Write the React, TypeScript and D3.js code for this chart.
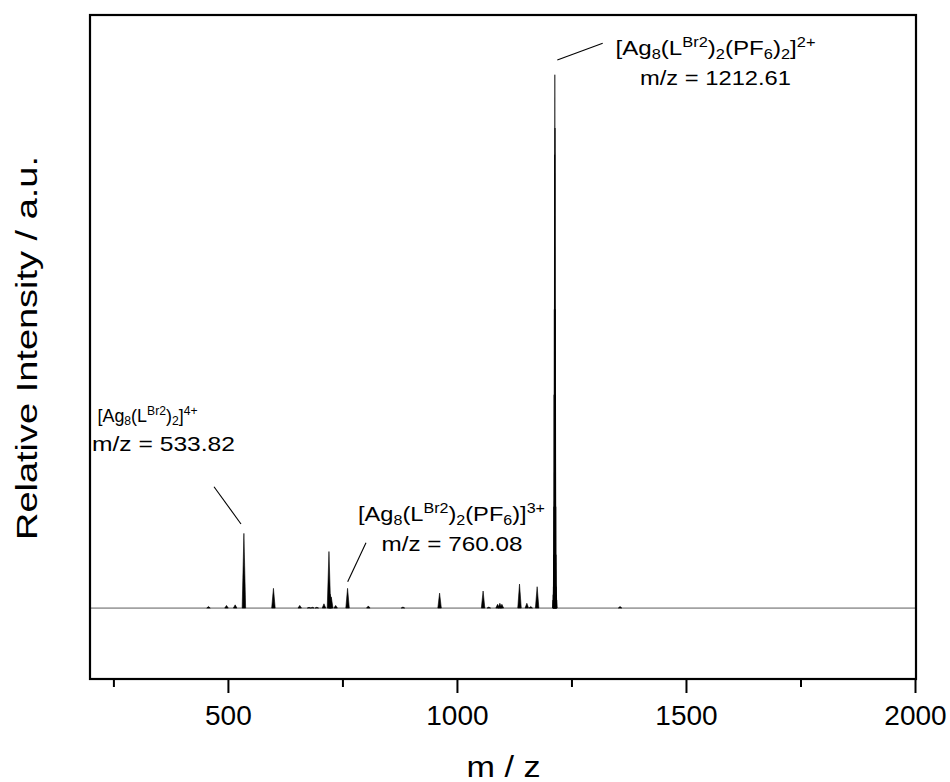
import React from "react";
import * as d3 from "d3";

// ---- data ----
const xDomain: [number, number] = [200, 2000];
const yDomain: [number, number] = [-13.3, 111.2];
const xMajorTicks = [500, 1000, 1500, 2000];
const xMinorTicks = [250, 750, 1250, 1750];

// minor peaks (m/z centre, relative intensity %)
const peakMz = [456.5, 495.8, 514.7, 533.8, 598.3, 655.7, 676, 683.5, 693, 708.6, 719.5, 722, 724.5, 734.1, 760.1, 805.4, 881, 961, 1056, 1068.5, 1087.6, 1092.6, 1097, 1135.5, 1151.5, 1160, 1174, 1355];
const peakInt = [0.3, 0.5, 0.6, 14.0, 3.7, 0.5, 0.15, 0.15, 0.15, 0.8, 10.6, 2.6, 2.1, 0.5, 3.7, 0.4, 0.2, 2.8, 3.2, 0.2, 0.7, 0.9, 0.7, 4.5, 0.9, 0.3, 4.0, 0.3];

// isotope envelope of the base peak at m/z 1212.61
const baseIsoMz = [1208.6, 1209.1, 1209.6, 1210.1, 1210.6, 1211.1, 1211.6, 1212.1, 1212.6, 1213.1, 1213.6, 1214.1, 1214.6, 1215.1, 1215.6, 1216.1, 1216.6];
const baseIsoInt = [1.5, 2.5, 4, 10, 19, 40, 56, 85, 100, 90, 56, 40, 19, 10, 4, 2.5, 1.5];

type Part = [string, "n" | "sub" | "sup"];
const label1: Part[] = [["[Ag", "n"], ["8", "sub"], ["(L", "n"], ["Br2", "sup"], [")", "n"], ["2", "sub"], ["(PF", "n"], ["6", "sub"], [")", "n"], ["2", "sub"], ["]", "n"], ["2+", "sup"]];
const label2: Part[] = [["[Ag", "n"], ["8", "sub"], ["(L", "n"], ["Br2", "sup"], [")", "n"], ["2", "sub"], ["]", "n"], ["4+", "sup"]];
const label3: Part[] = [["[Ag", "n"], ["8", "sub"], ["(L", "n"], ["Br2", "sup"], [")", "n"], ["2", "sub"], ["(PF", "n"], ["6", "sub"], [")]", "n"], ["3+", "sup"]];
const mzLabels = ["m/z = 1212.61", "m/z = 533.82", "m/z = 760.08"];

const FONT = "'Liberation Sans', Arial, Helvetica, sans-serif";

function Formula({ parts, x, y, size, len }: { parts: Part[]; x: number; y: number; size: number; len?: number }) {
  let cur = 0;
  const kids = parts.map((p, i) => {
    const target = p[1] === "sub" ? size * 0.18 : p[1] === "sup" ? -size * 0.38 : 0;
    const dy = target - cur;
    cur = target;
    return (
      <tspan key={i} dy={dy} fontSize={p[1] === "n" ? size : size * 0.68}>
        {p[0]}
      </tspan>
    );
  });
  return (
    <text x={x} y={y} fontFamily={FONT} fontSize={size} textLength={len} lengthAdjust={len ? "spacingAndGlyphs" : undefined}>
      {kids}
    </text>
  );
}

export default function App() {
  const W = 950, H = 782;
  const left = 90, right = 916, top = 15, bottom = 679;
  const x = d3.scaleLinear().domain(xDomain).range([91, 915.5]);
  const y = d3.scaleLinear().domain(yDomain).range([bottom, top]);

  const tri = (mz: number, h: number, hw: number) => {
    const p = d3.path();
    p.moveTo(x(mz - hw), y(0));
    p.lineTo(x(mz), y(h));
    p.lineTo(x(mz + hw), y(0));
    p.closePath();
    return p.toString();
  };

  const annSize = 21;

  return (
    <svg width={W} height={H} style={{ position: "absolute", left: 0, top: 0, background: "#fff" }}>
      <rect x={0} y={0} width={W} height={H} fill="#fff" />
      {/* baseline */}
      <line x1={left} x2={right} y1={y(0)} y2={y(0)} stroke="#a2a2a2" strokeWidth={1.8} />
      {/* peaks */}
      <g fill="#000" stroke="#000" strokeWidth={0.6}>
        {peakMz.map((m, i) => (
          <path key={"p" + i} d={tri(m, peakInt[i], 3.8)} />
        ))}
        {baseIsoMz.map((m, i) => (
          <path key={"b" + i} d={tri(m, baseIsoInt[i], 1.0)} />
        ))}
      </g>
      {/* frame */}
      <rect x={left} y={top} width={right - left} height={bottom - top} fill="none" stroke="#000" strokeWidth={2.2} />
      {/* ticks */}
      {xMajorTicks.map((t) => (
        <g key={"M" + t}>
          <line x1={x(t)} x2={x(t)} y1={bottom} y2={bottom + 14} stroke="#000" strokeWidth={2} />
          <text x={x(t)} y={725} textAnchor="middle" fontFamily={FONT} fontSize={28}>
            {t}
          </text>
        </g>
      ))}
      {xMinorTicks.map((t) => (
        <line key={"m" + t} x1={x(t)} x2={x(t)} y1={bottom} y2={bottom + 8} stroke="#000" strokeWidth={2} />
      ))}
      {/* axis titles */}
      <text x={503.5} y={777} textAnchor="middle" fontFamily={FONT} fontSize={29} textLength={74} lengthAdjust="spacingAndGlyphs">
        m / z
      </text>
      <text transform={`translate(37,348) rotate(-90)`} textAnchor="middle" fontFamily={FONT} fontSize={30} textLength={384} lengthAdjust="spacingAndGlyphs">
        Relative Intensity / a.u.
      </text>
      {/* annotations */}
      <g stroke="#000" strokeWidth={1.1}>
        <line x1={557.3} y1={60} x2={602.7} y2={43.3} />
        <line x1={214} y1={486.7} x2={241} y2={524} />
        <line x1={366} y1={542.7} x2={347.7} y2={581.7} />
      </g>
      <Formula parts={label1} x={615.5} y={55} size={annSize} len={200} />
      <text x={640} y={85} fontFamily={FONT} fontSize={annSize} textLength={151} lengthAdjust="spacingAndGlyphs">
        {mzLabels[0]}
      </text>
      <Formula parts={label2} x={97.5} y={422} size={19} len={100} />
      <text x={92} y={451} fontFamily={FONT} fontSize={annSize} textLength={143} lengthAdjust="spacingAndGlyphs">
        {mzLabels[1]}
      </text>
      <Formula parts={label3} x={358} y={521} size={annSize} len={187} />
      <text x={381.5} y={551} fontFamily={FONT} fontSize={annSize} textLength={141} lengthAdjust="spacingAndGlyphs">
        {mzLabels[2]}
      </text>
    </svg>
  );
}
